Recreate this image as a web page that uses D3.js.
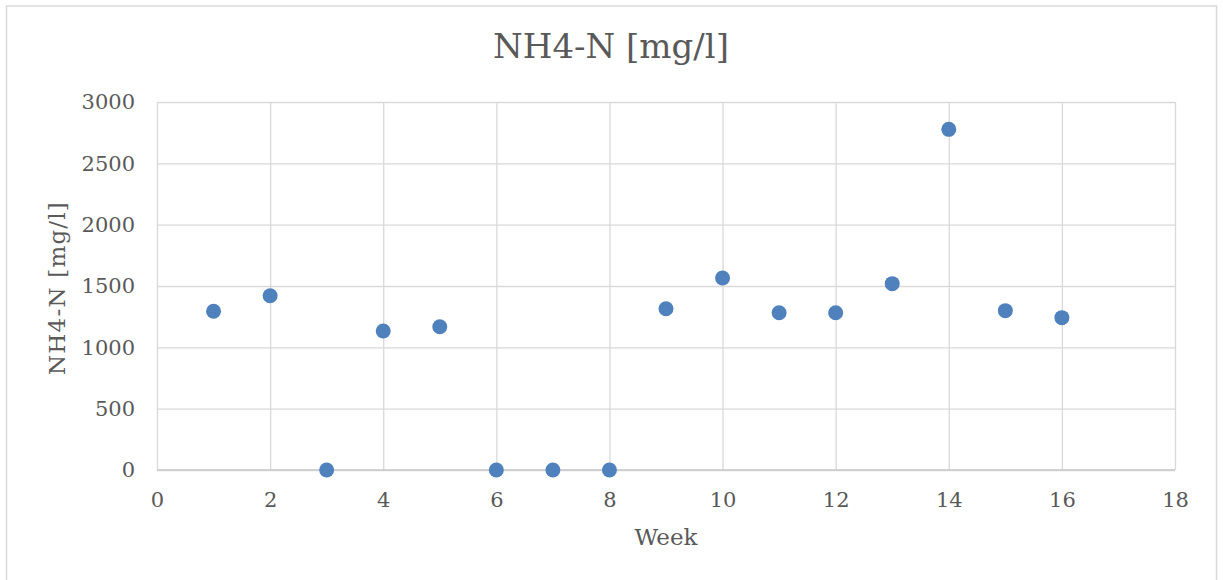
<!DOCTYPE html>
<html>
<head>
<meta charset="utf-8">
<script src="https://cdn.jsdelivr.net/npm/d3@7"></script>
<style>
  html, body { margin: 0; padding: 0; background: #fff; }
  svg { display: block; }
  text { font-family: 'DejaVu Serif', 'Liberation Serif', serif; fill: #595959; }
</style>
</head>
<body>
<svg id="chart" width="1223" height="580"></svg>
<script>
// Weekly NH4-N concentration
const weeks = [1, 2, 3, 4, 5, 6, 7, 8, 9, 10, 11, 12, 13, 14, 15, 16];
const nh4 = [1294, 1421, 0, 1133, 1168, 0, 0, 0, 1315, 1565, 1282, 1282, 1519, 2777, 1299, 1242];
const xTicks = [0, 2, 4, 6, 8, 10, 12, 14, 16, 18];
const yTicks = [0, 500, 1000, 1500, 2000, 2500, 3000];
const chartTitle = "NH4-N [mg/l]";
const xTitle = "Week";
const yTitle = "NH4-N [mg/l]";

const plot = { left: 157, right: 1175, top: 102, bottom: 470 };
const gridColor = "#d9d9d9";

const svg = d3.select("#chart");

// outer chart frame
svg.append("rect")
  .attr("x", 6.5).attr("y", 6)
  .attr("width", 1210).attr("height", 590)
  .attr("fill", "#fff")
  .attr("stroke", gridColor)
  .attr("stroke-width", 1.5);

const x = d3.scaleLinear().domain([0, 18]).range([plot.left, plot.right]);
const y = d3.scaleLinear().domain([0, 3000]).range([plot.bottom, plot.top]);

// vertical gridlines + x tick labels
const xAxis = svg.append("g")
  .attr("transform", `translate(0,${plot.bottom})`)
  .call(d3.axisBottom(x).tickValues(xTicks).tickSize(-(plot.bottom - plot.top)).tickPadding(22).tickFormat(d3.format("d")));
xAxis.select(".domain").remove();
xAxis.selectAll(".tick line").attr("stroke", gridColor).attr("stroke-width", 1.3);
xAxis.selectAll(".tick text")
  .attr("font-size", 21)
  .attr("fill", "#595959")
  .attr("font-family", "'DejaVu Serif', serif");

// horizontal gridlines + y tick labels
const yAxis = svg.append("g")
  .attr("transform", `translate(${plot.left},0)`)
  .call(d3.axisLeft(y).tickValues(yTicks).tickSize(-(plot.right - plot.left)).tickPadding(22).tickFormat(d3.format("d")));
yAxis.select(".domain").remove();
yAxis.selectAll(".tick line").attr("stroke", gridColor).attr("stroke-width", 1.3);
yAxis.selectAll(".tick text")
  .attr("font-size", 21)
  .attr("fill", "#595959")
  .attr("font-family", "'DejaVu Serif', serif");

// axis baseline
svg.append("line")
  .attr("x1", x(0)).attr("x2", x(18))
  .attr("y1", y(0)).attr("y2", y(0))
  .attr("stroke", "#c8c8c8").attr("stroke-width", 1.5);

// data points
svg.append("g")
  .selectAll("circle")
  .data(weeks.map((w, i) => ({ w, v: nh4[i] })))
  .join("circle")
  .attr("cx", d => x(d.w))
  .attr("cy", d => y(d.v))
  .attr("r", 7.5)
  .attr("fill", "#4f81bd");

// titles
svg.append("text")
  .attr("x", 611).attr("y", 58)
  .attr("text-anchor", "middle")
  .attr("font-size", 34)
  .text(chartTitle);

svg.append("text")
  .attr("x", 666).attr("y", 545)
  .attr("text-anchor", "middle")
  .attr("font-size", 23)
  .text(xTitle);

svg.append("text")
  .attr("transform", `translate(65,${(plot.top + plot.bottom) / 2 + 2}) rotate(-90)`)
  .attr("text-anchor", "middle")
  .attr("font-size", 23)
  .attr("letter-spacing", 1.2)
  .text(yTitle);
</script>
</body>
</html>
